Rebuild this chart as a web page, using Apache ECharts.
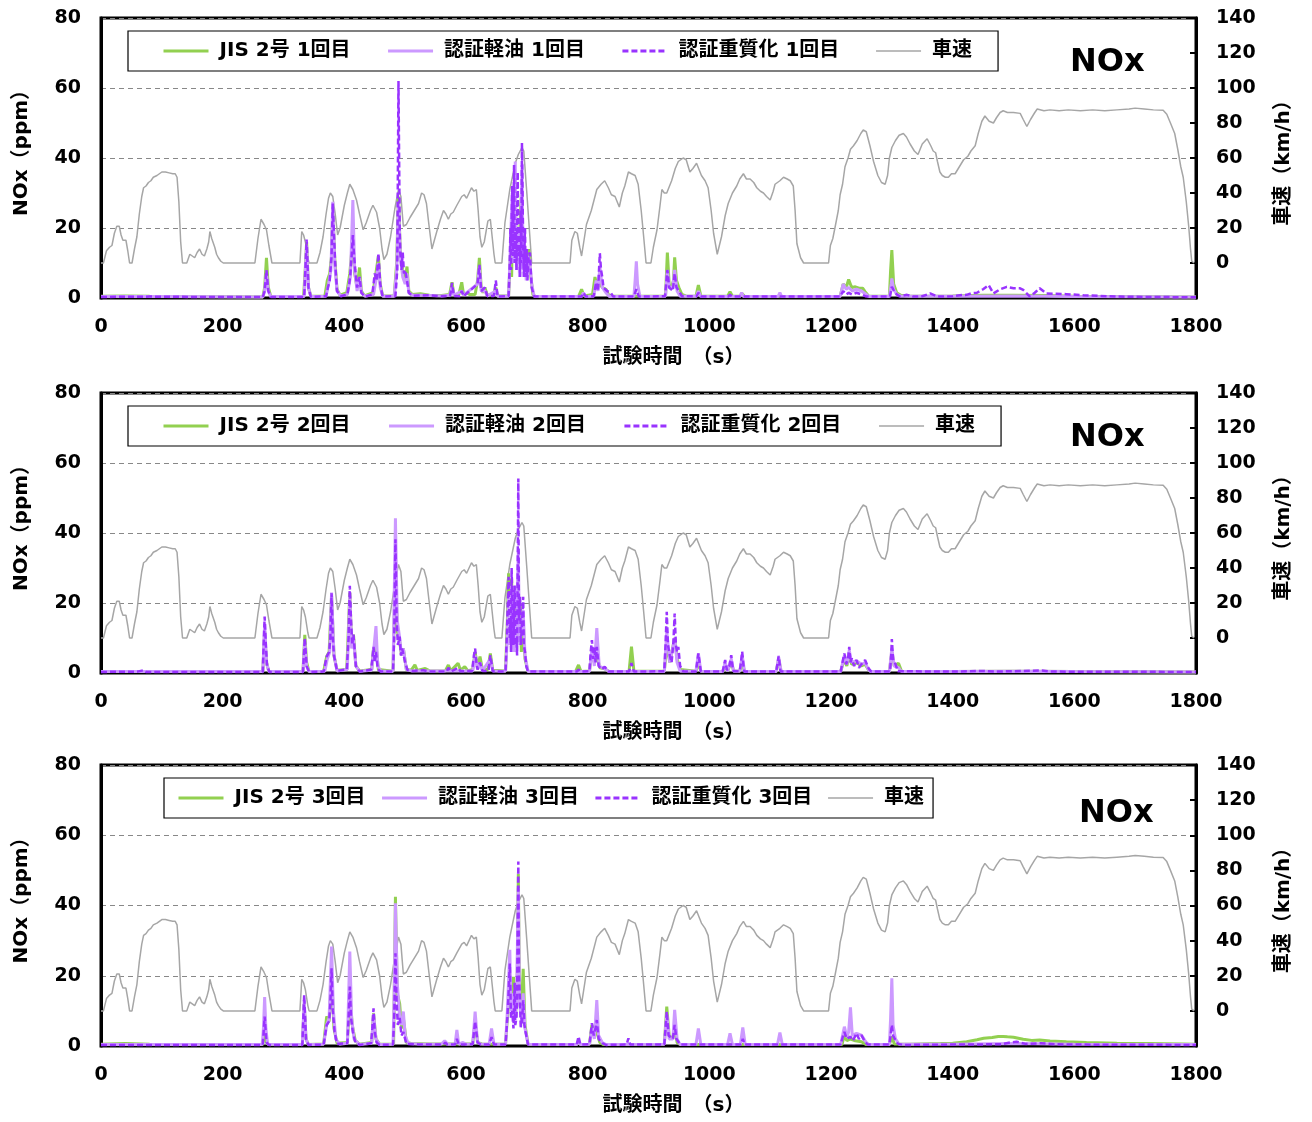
<!DOCTYPE html>
<html><head><meta charset="utf-8">
<script src="https://cdn.jsdelivr.net/npm/echarts@6/dist/echarts.min.js"></script>
<style>html,body{margin:0;padding:0;background:#fff}#c{width:1312px;height:1122px}</style>
</head><body><div id="c"></div>
<script>
// ---- data ----
const xTicks = [0,200,400,600,800,1000,1200,1400,1600,1800];
const noxTicks = [0,20,40,60,80];
const speedTicks = [0,20,40,60,80,100,120,140];
const seriesNames = [
  ['JIS 2号 1回目','認証軽油 1回目','認証重質化 1回目','車速'],
  ['JIS 2号 2回目','認証軽油 2回目','認証重質化 2回目','車速'],
  ['JIS 2号 3回目','認証軽油 3回目','認証重質化 3回目','車速']
];
// vehicle speed (km/h) [time s, speed]
const speed = [[0,0],[4,0],[9,7],[14,9],[18,10],[22,17],[26,21],[30,21],[33,16],[36,13],[41,13],[44,7],[47,0],[51,0],[55,8],[59,15],[63,28],[67,38],[70,43],[74,44],[78,46],[82,47],[86,49],[92,50],[100,52],[106,52],[112,51.5],[118,51],[122,51],[125,49],[128,35],[131,12],[134,0],[141,0],[146,5],[150,4],[154,3],[158,6],[162,8],[166,5],[170,4],[174,8],[177,12],[179,18],[182,14],[187,9],[190,5],[193,3],[197,1],[201,0],[253,0],[258,14],[263,25],[268,22],[272,19],[276,10],[281,0],[327,0],[330,18],[333,16],[336,12],[340,3],[342,0],[355,0],[360,6],[365,15],[370,28],[374,37],[377,40],[381,38],[385,28],[389,16],[393,20],[400,33],[405,40],[409,45],[414,42],[420,36],[425,28],[431,19],[436,23],[443,30],[447,33],[453,29],[458,20],[462,8],[465,2],[470,5],[476,15],[483,31],[489,42],[493,38],[497,21],[502,22],[508,26],[515,30],[522,34],[527,40],[531,39],[535,34],[539,22],[544,8],[548,13],[552,18],[558,25],[563,30],[567,28],[571,25],[575,28],[579,29],[585,33],[593,38],[597,39],[601,37],[605,40],[609,43],[613,41],[617,42],[620,30],[623,15],[626,9],[630,12],[636,24],[640,25],[643,15],[646,5],[648,0],[659,0],[664,23],[672,42],[681,57],[686,62],[692,66],[695,64],[700,40],[708,0],[771,0],[774,13],[779,18],[783,17],[787,9],[790,4],[798,22],[806,30],[815,42],[822,45],[828,47],[834,43],[839,39],[845,38],[852,32],[857,40],[861,44],[867,52],[872,51],[878,50],[883,45],[888,30],[891,19],[896,0],[904,0],[908,9],[914,19],[919,33],[922,42],[926,40],[930,40],[938,47],[944,54],[949,58],[957,60],[962,59],[968,52],[973,54],[979,57],[987,50],[993,47],[998,43],[1003,30],[1007,17],[1013,5],[1020,15],[1026,27],[1031,34],[1038,40],[1045,44],[1050,48],[1056,51],[1061,48],[1067,48],[1073,46],[1078,43],[1084,41],[1089,40],[1094,38],[1100,36],[1105,41],[1108,45],[1116,47],[1122,49],[1128,48],[1133,47],[1138,44],[1141,30],[1144,11],[1150,3],[1155,0],[1196,0],[1199,10],[1203,14],[1207,21],[1212,30],[1215,39],[1219,45],[1223,55],[1228,60],[1232,65],[1237,67],[1243,70],[1249,74],[1253,76],[1258,75],[1264,67],[1270,58],[1277,50],[1283,46],[1289,45],[1293,50],[1296,60],[1300,66],[1306,70],[1312,73],[1319,74],[1324,72],[1330,68],[1337,64],[1343,62],[1350,68],[1358,71],[1364,67],[1368,64],[1372,63],[1375,58],[1379,52],[1383,50],[1388,49],[1393,49],[1398,51],[1404,51],[1411,55],[1418,59],[1425,61],[1430,64],[1437,67],[1442,74],[1448,81],[1453,84],[1460,81],[1467,80],[1472,83],[1478,86],[1483,87],[1490,86],[1500,86],[1511,85.5],[1516,82],[1522,78],[1528,82],[1535,86],[1539,88],[1550,87],[1560,87.5],[1575,87],[1590,87.5],[1610,87],[1630,87.5],[1650,87],[1670,87.5],[1690,88],[1700,88.5],[1715,88],[1730,87.5],[1746,87.3],[1752,85],[1758,80],[1765,74],[1770,65],[1775,55],[1779,49],[1784,35],[1788,21],[1791,8],[1793,1],[1797,0]];

// NOx (ppm) [time s, value] — run 1
const jis1 = [[0,0.5],[40,0.6],[80,0.5],[150,0.4],[266,0.3],[269,3],[272,11.5],[275,3],[279,0.5],[333,0.4],[336,9],[338,16],[341,3],[345,0.5],[368,0.6],[372,5],[376,7],[379,12],[381,26],[384,12],[388,2.5],[393,0.8],[404,1.5],[409,7],[414,17],[417,7],[421,3],[425,8.7],[428,2],[433,0.6],[447,1.5],[451,6],[456,12],[459,4],[463,0.6],[482,0.6],[486,10],[489,29],[492,13],[496,8],[500,5],[503,9],[506,2],[512,1],[525,1.2],[540,0.8],[560,0.7],[573,1],[577,4.5],[580,1],[588,0.8],[593,4.5],[596,1],[602,1.5],[606,1],[615,1],[619,5],[622,11.5],[625,3],[628,1.5],[631,3],[635,0.8],[645,1],[649,3],[652,0.6],[670,0.6],[673,12],[675,6],[677,25],[679,12],[681,30],[683,10],[685,18],[687,8],[689,22],[691,29.6],[693,10],[695,15],[697,8],[699,14],[701,8],[703,14],[706,7],[710,1],[714,0.4],[785,0.4],[790,2.5],[794,0.6],[808,1],[812,6],[816,3],[820,4],[824,3],[830,2.5],[834,1],[840,0.5],[928,0.6],[931,13],[934,4],[938,3],[941,5],[943,11.6],[946,5],[950,3],[955,1],[962,0.5],[978,0.5],[982,3.7],[986,0.6],[1030,0.5],[1034,1.8],[1038,0.5],[1050,0.5],[1054,1.2],[1058,0.4],[1215,0.5],[1220,4],[1225,3],[1229,5.3],[1234,3],[1240,3.2],[1246,2.8],[1252,2.8],[1256,1.8],[1262,0.5],[1296,0.5],[1298,8],[1300,13.7],[1303,4],[1308,1.5],[1315,0.8],[1330,0.5],[1400,0.6],[1450,0.8],[1500,0.8],[1550,0.7],[1600,0.5],[1700,0.4],[1800,0.3]];
const kei1 = [[0,0.4],[100,0.4],[266,0.3],[269,2],[272,7],[275,2],[279,0.4],[334,0.4],[336,8],[338,15],[341,3],[345,0.4],[370,0.5],[374,4],[378,8],[381,27.5],[384,10],[388,2],[394,0.6],[405,1],[410,6],[414,28],[417,8],[421,2],[425,6],[428,1.5],[434,0.5],[448,1],[452,5],[456,10],[459,3],[463,0.5],[482,0.5],[486,8],[489,27],[492,12],[496,6],[500,4],[503,7],[506,1.5],[512,0.8],[530,0.8],[560,0.6],[573,0.8],[577,3],[580,0.8],[593,2],[596,0.8],[619,4],[622,9],[625,2],[631,2],[635,0.6],[649,2],[652,0.5],[670,0.5],[673,15],[676,30],[678,10],[681,39],[683,8],[686,20],[688,6],[690,15],[692,38],[694,8],[697,12],[699,5],[702,12],[705,10],[708,4],[712,0.5],[790,0.4],[793,1.5],[797,0.4],[810,0.5],[814,5],[817,2],[820,9],[824,3],[830,1.5],[836,0.4],[876,0.4],[878,5],[880,10.5],[882,4],[886,0.4],[928,0.5],[931,8],[934,3],[940,3],[943,8],[947,2],[952,0.5],[979,0.5],[982,2],[986,0.4],[1050,0.4],[1053,1.5],[1056,0.4],[1113,0.4],[1116,1.5],[1119,0.4],[1215,0.4],[1220,4],[1225,2.5],[1229,3],[1235,2],[1242,2.5],[1250,2],[1258,1],[1262,0.4],[1296,0.4],[1299,4],[1300,5.6],[1303,2.5],[1308,1],[1315,0.5],[1400,0.5],[1500,0.6],[1600,0.4],[1800,0.3]];
const juu1 = [[0,0.3],[80,0.4],[150,0.3],[196,0.3],[198,0.8],[200,0.3],[266,0.3],[269,2],[272,8],[275,2],[279,0.3],[334,0.3],[336,8],[338,16.7],[341,3],[345,0.3],[370,0.5],[373,3],[376,5],[379,12],[381,27],[383,18],[385,10],[388,2],[394,0.5],[405,1],[408,4],[410,7],[412,12],[414,18],[416,12],[418,8],[421,3],[425,6],[428,1.5],[434,0.4],[446,1],[450,7],[453,5],[456,12.7],[459,4],[463,0.4],[484,0.5],[487,8],[489,62],[491,20],[492,13],[494,8],[496,13],[498,7],[500,8],[503,5],[506,1.5],[512,0.6],[540,0.8],[560,0.5],[574,0.6],[577,4.3],[580,0.6],[590,0.5],[593,2],[596,0.5],[619,4],[622,9.5],[625,2],[631,3],[635,0.5],[646,0.6],[649,5],[652,0.4],[670,0.5],[672,10],[673,20],[674,8],[676,32],[677,12],[679,38],[680,10],[682,20],[683,8],[685,36],[686,12],[688,14],[689,6],[690,25],[691,10],[692,44.3],[694,14],[695,6],[697,20],[698,6],[700,14],[701,5],[703,12],[705,13],[708,3],[712,0.4],[790,0.4],[793,1.5],[797,0.4],[810,0.5],[814,4.5],[817,2],[820,12.8],[822,8],[824,6],[826,3],[828,3],[832,2],[838,1.5],[842,0.4],[876,0.4],[880,2.5],[884,0.4],[927,0.5],[929,4],[931,8],[934,3],[940,2],[943,7],[946,3],[950,2],[955,0.5],[979,0.5],[982,1.5],[986,0.4],[1031,0.4],[1034,1],[1037,0.4],[1215,0.4],[1220,2],[1225,1],[1229,1.5],[1235,1],[1242,1.5],[1250,1],[1258,0.4],[1297,0.4],[1300,3.2],[1305,1.5],[1312,0.5],[1325,0.9],[1335,0.4],[1350,0.5],[1363,1.3],[1375,0.4],[1400,0.5],[1412,0.8],[1423,0.9],[1432,1.4],[1440,1.5],[1450,2.5],[1459,3.7],[1467,1.3],[1478,2.5],[1489,3.2],[1500,2.8],[1510,2.8],[1516,2.3],[1527,0.4],[1535,1.5],[1543,2.8],[1554,1.3],[1570,1.2],[1587,1.1],[1615,0.8],[1640,0.6],[1670,0.4],[1720,0.3],[1800,0.2]];
// run 2
const jis2 = [[0,0.4],[100,0.4],[266,0.4],[269,12],[272,3],[276,0.4],[332,0.4],[335,10.9],[338,3],[342,0.4],[366,0.5],[371,4.7],[375,6],[379,22],[383,5],[388,0.8],[404,1],[409,23],[412,8],[415,11],[419,2],[425,0.6],[445,1],[448,7],[452,8],[456,1],[480,0.5],[484,30],[487,12],[491,9],[494,5],[497,7],[502,1],[510,0.8],[516,2.3],[520,0.7],[533,1.3],[540,0.6],[566,0.6],[571,2.3],[575,0.6],[587,2.8],[591,0.8],[598,1.8],[603,0.6],[611,1],[615,6],[619,1.5],[623,4.7],[627,1],[636,1],[640,5.6],[644,0.8],[665,0.6],[668,15],[670,28.5],[672,10],[675,27],[677,8],[680,20],[682,6],[686,25],[688,8],[689,20],[691,6],[694,15],[697,4],[702,0.4],[780,0.4],[785,2.3],[789,0.4],[803,0.6],[807,6],[811,3],[815,5],[820,1.5],[828,1.2],[835,0.4],[868,0.4],[872,7.5],[876,0.6],[926,0.5],[930,8],[935,3],[943,10],[947,4],[952,1],[978,0.5],[982,3],[986,0.5],[1022,0.4],[1026,2],[1030,0.6],[1036,3],[1040,0.6],[1050,0.5],[1054,3],[1058,0.4],[1110,0.4],[1114,4],[1118,0.4],[1216,0.5],[1222,4],[1226,2],[1230,5],[1234,2.5],[1242,3],[1250,2],[1256,2.5],[1262,0.8],[1266,0.4],[1296,0.4],[1300,6],[1304,2],[1311,2.8],[1316,0.5],[1400,0.4],[1500,0.5],[1600,0.4],[1800,0.3]];
const kei2 = [[0,0.4],[100,0.4],[266,0.4],[269,14],[272,3],[276,0.4],[332,0.4],[335,9],[338,2],[342,0.4],[368,0.5],[372,4],[376,6],[379,23],[383,5],[388,0.6],[405,1],[409,22],[412,7],[415,10],[419,2],[425,0.5],[445,0.8],[448,6],[452,13.4],[455,2],[460,0.5],[480,0.5],[484,44.2],[487,15],[491,10],[494,5],[497,7],[502,1],[510,0.6],[611,0.6],[615,5],[619,1],[623,3],[627,0.6],[640,4],[644,0.6],[665,0.5],[668,10],[670,22],[672,8],[675,25],[677,6],[680,15],[682,6],[686,35],[688,8],[691,12],[694,18],[697,5],[702,0.4],[803,0.4],[807,7],[811,2],[815,12.8],[819,2],[828,1.2],[835,0.4],[926,0.4],[930,12],[935,3],[943,10],[947,3],[952,0.5],[978,0.5],[982,5.6],[986,0.5],[1022,0.4],[1026,3],[1030,0.5],[1036,4],[1040,0.5],[1050,0.5],[1054,5],[1058,0.4],[1110,0.4],[1114,4.5],[1118,0.4],[1216,0.4],[1222,5],[1226,2.5],[1230,6.5],[1234,3],[1242,3.5],[1250,2.5],[1256,3],[1262,0.8],[1266,0.4],[1296,0.4],[1300,7],[1304,2],[1311,1.5],[1316,0.4],[1400,0.4],[1500,0.5],[1600,0.4],[1800,0.3]];
const juu2 = [[0,0.3],[60,0.4],[70,0.8],[74,0.3],[266,0.3],[267,6],[269,16.1],[271,8],[273,2],[277,0.3],[332,0.3],[335,10],[338,2],[342,0.3],[366,0.4],[371,4.7],[375,6],[377,10],[379,22.8],[381,10],[383,5],[388,0.6],[404,1],[407,10],[409,24.9],[411,15],[413,8],[415,11],[419,2],[425,0.4],[444,1],[446,4],[448,7.5],[450,3],[452,6],[455,1],[460,0.4],[480,0.4],[482,10],[484,38.2],[486,15],[488,8],[491,10.4],[493,5],[495,7],[497,7.5],[500,3],[504,0.8],[512,0.6],[530,0.8],[540,0.4],[568,0.4],[571,1.5],[575,0.4],[587,1.5],[591,0.5],[610,0.6],[613,5],[615,7],[617,3],[619,1],[623,3],[627,0.6],[637,0.6],[640,5.1],[644,0.5],[665,0.4],[667,10],[670,27.5],[672,10],[673,15],[674,6],[675,30],[677,12],[678,8],[680,25],[681,8],[683,10],[684,5],[686,55.6],[687,15],[689,21.8],[690,8],[691,8],[692,14],[694,21.8],[695,8],[697,6],[699,2],[702,0.4],[782,0.4],[785,1],[788,0.4],[803,0.5],[805,6],[807,9.4],[809,4],[811,7.5],[813,3],[815,7.5],[818,2],[823,1],[828,1.8],[834,0.4],[868,0.4],[872,2.8],[876,0.4],[926,0.5],[928,8],[930,17.5],[932,8],[935,5],[938,3],[941,9],[943,17],[945,8],[947,6],[949,7.5],[952,2],[957,0.5],[978,0.4],[982,5.6],[986,0.4],[1022,0.4],[1026,3.7],[1029,0.8],[1033,2],[1036,5.1],[1039,0.6],[1050,0.5],[1052,3],[1054,6.1],[1057,0.4],[1110,0.4],[1114,4.9],[1117,0.4],[1216,0.4],[1220,4],[1222,5.6],[1225,2.5],[1228,4],[1230,7.5],[1232,3],[1234,4.2],[1238,2],[1242,3.7],[1246,1.5],[1250,2.5],[1256,3.7],[1262,1.3],[1266,0.4],[1297,0.4],[1299,5],[1300,9.7],[1302,4],[1305,3],[1310,0.5],[1400,0.4],[1451,0.6],[1470,0.4],[1547,0.7],[1560,0.4],[1800,0.3]];
// run 3
const jis3 = [[0,0.5],[40,0.7],[80,0.5],[150,0.4],[266,0.4],[269,5],[272,1],[276,0.4],[331,0.4],[334,12],[337,2],[341,0.4],[366,0.6],[371,8.4],[375,7],[379,20],[383,5],[388,0.8],[405,1],[409,15],[413,6],[418,1.5],[425,0.5],[445,1],[448,9.3],[452,2],[458,0.5],[481,0.5],[484,42.5],[487,15],[491,12],[494,5],[497,8],[502,1],[510,0.7],[540,0.6],[611,0.6],[615,7],[619,1],[626,0.6],[665,0.5],[668,8],[672,15],[675,10],[678,19.7],[681,8],[684,15],[686,49],[688,12],[691,10],[694,22],[697,6],[702,0.5],[782,0.4],[785,1.5],[788,0.4],[803,0.5],[807,6],[811,3],[815,4],[820,1],[826,0.4],[926,0.5],[930,11.2],[934,3],[940,2],[943,6],[947,1],[952,0.4],[1218,0.4],[1222,3],[1226,1.5],[1232,2],[1240,1.5],[1250,1.2],[1258,0.4],[1296,0.4],[1300,2.7],[1304,0.6],[1330,0.5],[1380,0.7],[1400,0.8],[1423,1.2],[1440,1.8],[1451,2.2],[1465,2.4],[1475,2.7],[1483,2.7],[1490,2.6],[1500,2.5],[1508,2.2],[1516,1.9],[1530,1.6],[1543,1.7],[1560,1.4],[1587,1.2],[1620,1.0],[1670,0.8],[1720,0.7],[1779,0.6],[1800,0.5]];
const kei3 = [[0,0.4],[100,0.4],[265,0.4],[267,5],[269,13.9],[271,5],[274,0.5],[331,0.4],[334,13],[337,2],[341,0.4],[366,0.5],[371,6],[375,8],[379,28.3],[382,10],[386,2],[392,0.5],[405,0.8],[409,26.9],[412,8],[416,2],[425,0.4],[445,0.8],[448,9],[452,2],[458,0.4],[480,0.5],[482,15],[484,40.6],[487,18],[491,8],[494,6],[497,9.8],[500,3],[505,0.7],[520,0.6],[540,0.5],[560,0.6],[565,1.5],[570,0.5],[582,0.5],[585,4.6],[588,0.5],[595,1],[600,0.5],[611,0.6],[615,9.8],[619,1],[624,0.6],[638,0.5],[642,5],[646,0.5],[665,0.5],[668,10],[672,27.4],[674,10],[677,15],[680,8],[683,12],[686,45],[688,12],[691,8],[694,15],[697,5],[702,0.5],[782,0.4],[785,1],[788,0.4],[803,0.5],[807,5],[811,2],[815,13.1],[818,3],[824,1],[830,0.4],[926,0.5],[930,9],[934,2],[940,2],[943,10.3],[947,2],[952,0.4],[978,0.4],[982,5],[986,0.4],[1030,0.4],[1034,3.6],[1038,0.4],[1051,0.4],[1055,5.3],[1059,0.4],[1112,0.4],[1116,3.8],[1120,0.4],[1216,0.5],[1222,5.5],[1226,2.5],[1229,4],[1232,11],[1235,3],[1242,3.6],[1250,3.1],[1258,1],[1262,0.4],[1296,0.4],[1298,8],[1300,19.3],[1302,6],[1306,2],[1312,0.5],[1400,0.5],[1500,0.7],[1600,0.5],[1800,0.4]];
const juu3 = [[0,0.3],[100,0.3],[197,0.3],[199,0.6],[201,0.3],[266,0.3],[269,8.4],[272,1],[276,0.3],[331,0.3],[334,14.5],[337,2],[341,0.3],[366,0.4],[371,6],[375,7],[377,12],[379,22.1],[381,10],[384,4],[388,0.6],[405,0.8],[407,8],[409,16.9],[411,8],[414,4],[418,1],[425,0.3],[444,0.8],[446,5],[448,10.7],[450,4],[453,1],[458,0.3],[480,0.4],[482,8],[484,26.4],[486,12],[488,6],[491,8],[494,3],[497,4],[502,0.6],[520,0.5],[540,0.4],[563,0.4],[566,1],[569,0.4],[582,0.4],[585,2],[588,0.4],[611,0.5],[615,7],[619,1],[624,0.4],[638,0.4],[642,2.5],[646,0.4],[665,0.4],[668,8],[670,15],[672,23.5],[674,8],[676,10],[678,5],[680,18],[681,6],[683,8],[684,14],[686,52.5],[687,20],[689,12],[690,5],[691,8],[692,6],[694,13],[696,6],[698,4],[702,0.4],[782,0.4],[785,2.7],[788,0.4],[803,0.5],[807,6.5],[810,3],[813,5],[815,7.4],[818,2],[824,0.8],[830,0.3],[864,0.4],[867,2.2],[870,0.4],[926,0.4],[928,5],[930,9.8],[933,3],[940,2],[943,6],[946,2],[952,0.4],[1052,0.4],[1055,2],[1058,0.4],[1216,0.4],[1220,3],[1222,4],[1226,2],[1232,2.7],[1236,1.5],[1242,3.6],[1246,2],[1250,3.1],[1255,1.5],[1260,0.4],[1296,0.4],[1298,3],[1300,6],[1302,3],[1305,2],[1310,0.6],[1320,0.3],[1480,0.5],[1495,1],[1505,1.2],[1520,0.6],[1545,0.8],[1570,0.5],[1600,0.4],[1800,0.3]];

const noxRuns = [[jis1,kei1,juu1],[jis2,kei2,juu2],[jis3,kei3,juu3]];

// ---- layout / style ----
const FONT = "'DejaVu Sans','Noto Sans CJK JP',sans-serif";
const gridTops = [18, 393, 765];
const gridH = [280, 280, 281];
const legendPos = [
  {left:128,top:31,gap:36,pad:[10,26,10,34]},
  {left:128,top:406,gap:37,pad:[10,26,10,34]},
  {left:164,top:778,gap:15,pad:[10,9,10,13]}
];
const colors = ['#92D050','#CC99FF','#9933FF','#A6A6A6'];

const grids=[], xAxes=[], yAxes=[], series=[], legends=[], titles=[];
for (let p=0;p<3;p++){
  grids.push({left:101, top:gridTops[p], width:1095, height:gridH[p], show:true, borderColor:'#000', borderWidth:3, containLabel:false});
  xAxes.push({type:'value', gridIndex:p, min:xTicks[0], max:xTicks[xTicks.length-1], interval:200,
    name:'試験時間　（s）', nameLocation:'middle', nameGap:50,
    nameTextStyle:{fontFamily:FONT,fontSize:20,fontWeight:'bold',color:'#000',padding:[0,0,0,50]},
    axisLine:{show:true,lineStyle:{color:'#000',width:2}}, axisTick:{show:false},
    axisLabel:{fontFamily:FONT,fontSize:19,fontWeight:'bold',color:'#000',margin:20,formatter:v=>String(v)},
    splitLine:{show:false}});
  yAxes.push({type:'value', gridIndex:p, position:'left', min:noxTicks[0], max:noxTicks[noxTicks.length-1], interval:20,
    name:'NOx（ppm）', nameLocation:'middle', nameGap:69, nameRotate:90,
    nameTextStyle:{fontFamily:FONT,fontSize:20,fontWeight:'bold',color:'#000',padding:[0,0,0,20]},
    axisLine:{show:true,lineStyle:{color:'#000',width:3}}, axisTick:{show:false},
    axisLabel:{fontFamily:FONT,fontSize:19,fontWeight:'bold',color:'#000',margin:20},
    splitLine:{show:true,lineStyle:{color:'#888',type:[5,4],width:1}}});
  yAxes.push({type:'value', gridIndex:p, position:'right', min:-20, max:speedTicks[speedTicks.length-1], interval:20,
    name:'車速（km/h）', nameLocation:'middle', nameGap:78, nameRotate:90,
    nameTextStyle:{fontFamily:FONT,fontSize:20,fontWeight:'bold',color:'#000'},
    axisLine:{show:true,lineStyle:{color:'#000',width:3}},
    axisTick:{show:true,inside:true,length:6,lineStyle:{color:'#000',width:2}},
    axisLabel:{fontFamily:FONT,fontSize:19,fontWeight:'bold',color:'#000',margin:20,
      formatter:v=> v<0 ? '' : String(v)},
    splitLine:{show:false}});
  const names = seriesNames[p];
  series.push({name:names[3], type:'line', xAxisIndex:p, yAxisIndex:2*p+1, data:speed, symbol:'none',
    lineStyle:{color:colors[3],width:1.5}, itemStyle:{color:colors[3]}, z:2, animation:false});
  const styles = [
    {color:colors[0],width:3,type:'solid'},
    {color:colors[1],width:3,type:'solid'},
    {color:colors[2],width:2.5,type:[6,3]}
  ];
  for (let k=0;k<3;k++){
    series.push({name:names[k], type:'line', xAxisIndex:p, yAxisIndex:2*p, data:noxRuns[p][k], symbol:'none',
      lineStyle:styles[k], itemStyle:{color:styles[k].color}, z:3+k, animation:false});
  }
  legends.push({left:legendPos[p].left, top:legendPos[p].top, orient:'horizontal',
    data:[{name:names[0],lineStyle:{width:3}},{name:names[1],lineStyle:{width:3}},
          {name:names[2],lineStyle:{width:3}},{name:names[3],lineStyle:{width:1.5}}],
    itemWidth:45, itemHeight:14, itemGap:legendPos[p].gap,
    itemStyle:{opacity:0},
    padding:legendPos[p].pad, borderColor:'#000', borderWidth:1.2, backgroundColor:'#fff',
    textStyle:{fontFamily:FONT,fontSize:20,fontWeight:'bold',color:'#000',padding:[0,0,0,6]},
    selectedMode:false});
  titles.push({text:'NOx', left: p===2?1074:1065, top: gridTops[p]+24 + (p===2?4:0),
    textStyle:{fontFamily:FONT,fontSize:32,fontWeight:'bold',color:'#000'}});
}

const chart = echarts.init(document.getElementById('c'), null, {renderer:'canvas'});
chart.setOption({
  animation:false,
  backgroundColor:'#fff',
  title:titles, grid:grids, xAxis:xAxes, yAxis:yAxes, legend:legends, series:series
});
</script></body></html>
